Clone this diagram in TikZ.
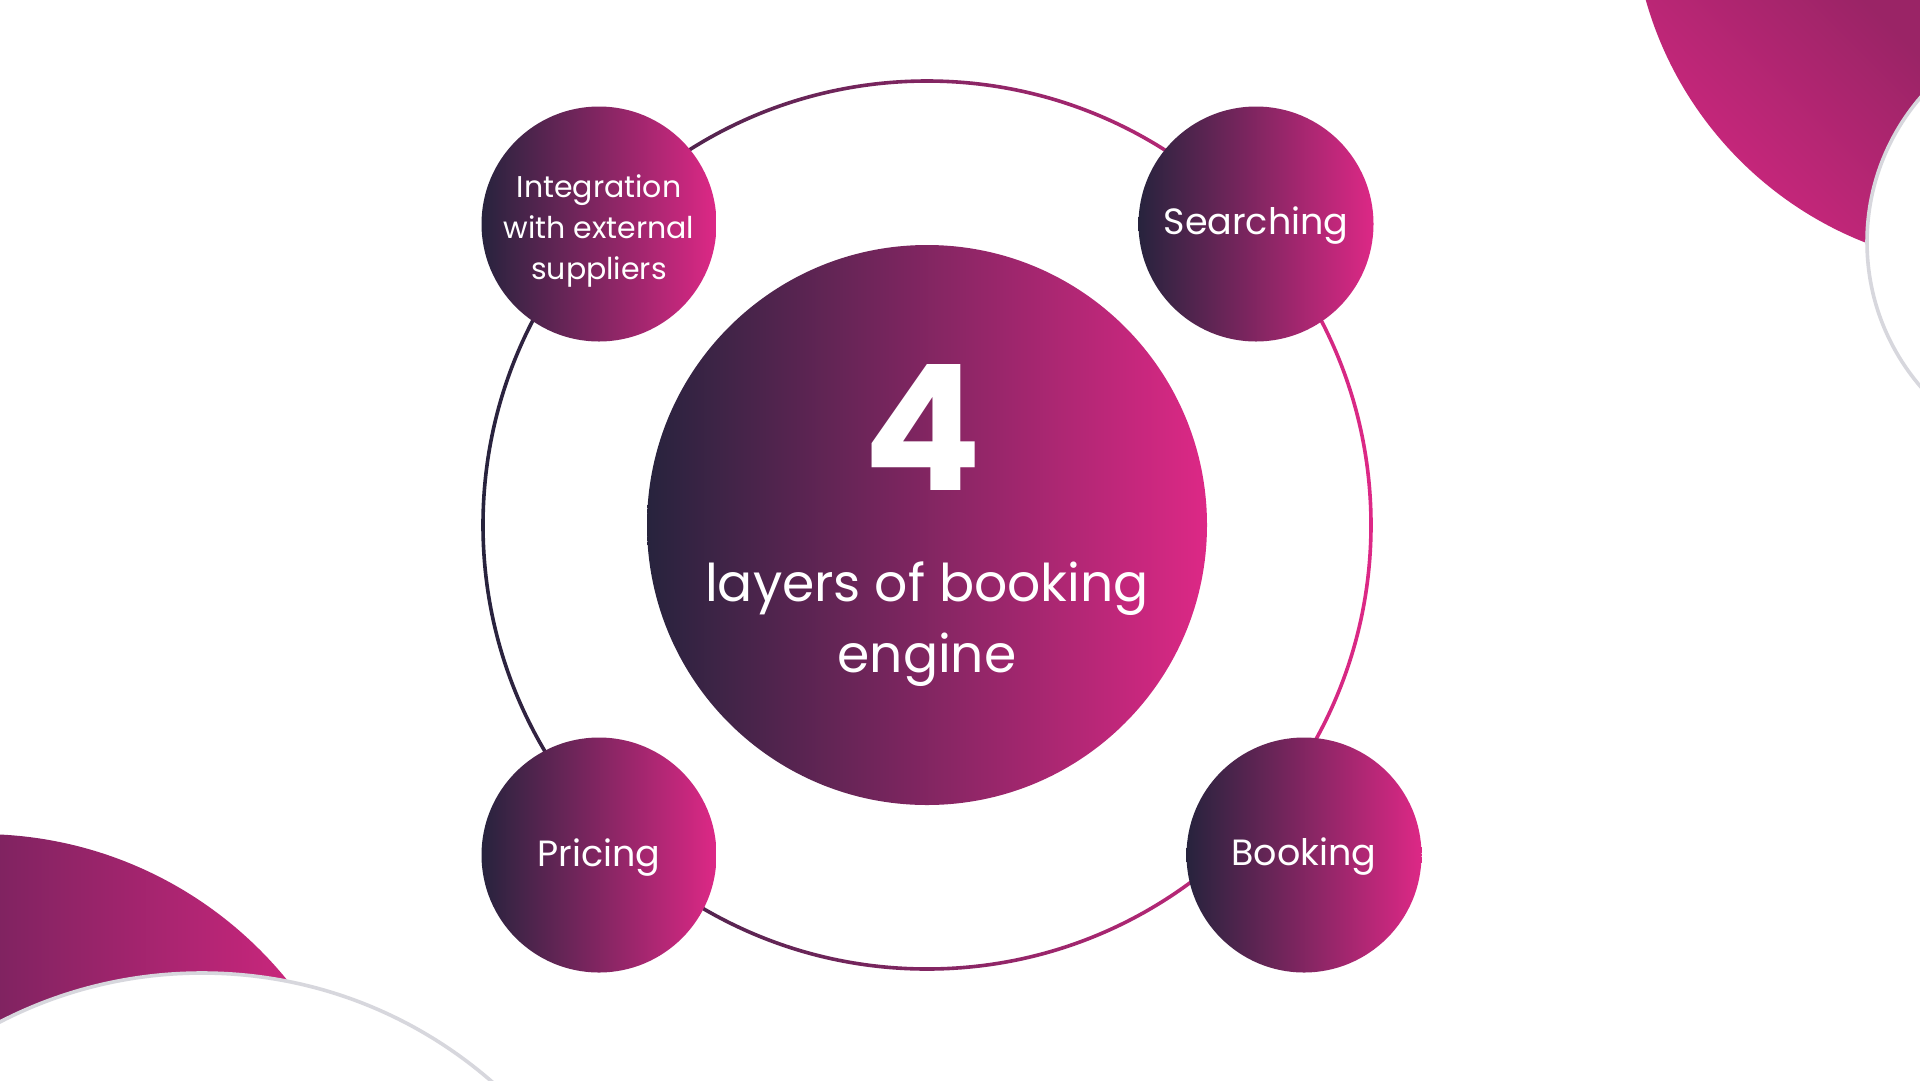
\documentclass[tikz,border=0pt]{standalone}
\usepackage{fontspec}
\setmainfont{Poppins}
\usetikzlibrary{shapes.geometric}
\definecolor{gdark}{HTML}{27233D}
\definecolor{gpink}{HTML}{DD2886}
\definecolor{gpurple}{HTML}{9A2466}
\definecolor{bpurple}{HTML}{7E2360}
\definecolor{bpink}{HTML}{CB267D}
\definecolor{ringgray}{HTML}{D7D7DD}
\tikzset{
  grad/.style={left color=gdark, right color=gpink},
  layer/.style={circle, grad, minimum size=235pt, inner sep=0pt},
  lbl/.style={text=white, align=center, inner sep=0pt, font=\fontsize{36.5}{41}\selectfont},
}
\begin{document}
\begin{tikzpicture}[x=1pt,y=-1pt]
\clip (0,0) rectangle (1920,1080);
\fill[white] (0,0) rectangle (1920,1080);
% top-right decoration
\begin{scope}
  \clip (2000,-100) circle[radius=368pt];
  \shade[top color=gpurple, bottom color=gpink, shading angle=-45] (1600,-20) rectangle (1940,280);
\end{scope}
\draw[ringgray, line width=3.6pt, fill=white] (2089,242) circle[radius=222pt];
% bottom-left decoration
\begin{scope}
  \clip (-20,1230) circle[radius=396pt];
  \shade[left color=bpurple, right color=bpink] (-10,820) rectangle (300,1090);
\end{scope}
\draw[ringgray, line width=3.6pt, fill=white] (202,1414) circle[radius=441pt];
% ring
\shade[grad, even odd rule] (927,525) circle[radius=445.8pt] (927,525) circle[radius=442.2pt];
% centre
\node[circle, grad, minimum size=560pt, inner sep=0pt] (c) at (927,525) {};
\node[text=white, inner sep=0pt, font=\fontsize{175}{175}\selectfont\bfseries] (four) at (923,427) {4};
\node[text=white, align=center, inner sep=0pt, font=\fontsize{52}{71}\selectfont] (lab) at (927,624) {layers of booking\\engine};
% layers
\node[layer, label={[lbl, yshift=-7pt, font=\fontsize{30}{41}\selectfont]center:Integration\\with external\\suppliers}] (n1) at (599,224) {};
\node[layer, label={[lbl, yshift=-2pt]center:Searching}] (n2) at (1256,224) {};
\node[layer, label={[lbl, yshift=-3pt]center:Pricing}] (n3) at (599,855) {};
\node[layer, label={[lbl, yshift=-2pt]center:Booking}] (n4) at (1304,855) {};
\end{tikzpicture}
\end{document}
